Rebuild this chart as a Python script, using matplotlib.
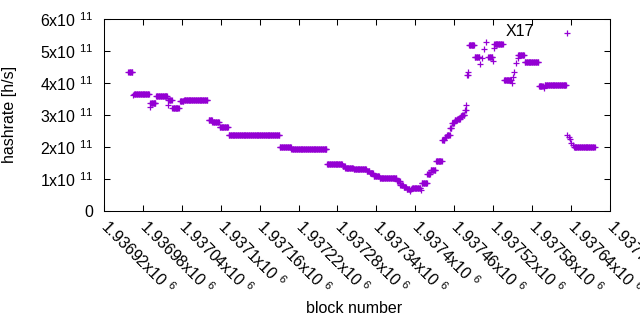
import numpy as np
import matplotlib
matplotlib.use("Agg")
import matplotlib.pyplot as plt

plt.rcParams['font.family'] = ['Liberation Sans', 'DejaVu Sans']
plt.rcParams['mathtext.fontset'] = 'custom'
plt.rcParams['mathtext.rm'] = 'Liberation Sans'
plt.rcParams['mathtext.default'] = 'regular'

# hashrate data: runs of constant value (block offset from 1936920, inclusive)
base_block = 1936920
run_start = [37, 45, 46, 70, 71, 80, 98, 99, 105, 117, 123, 161, 167, 178, 192, 271, 289,
             344, 368, 372, 385, 405, 410, 416, 425, 452, 457, 462, 467, 472, 473, 475, 489,
             490, 499, 504, 512, 522, 526, 529, 534, 537, 541, 545, 550, 553, 557, 559,
             560, 562, 563, 572, 580, 583, 586, 590, 593, 600, 601, 602, 617, 629, 631,
             632, 635, 638, 639, 649, 671, 679, 680, 714, 715, 717, 719, 721, 723, 725]
run_end = [43, 45, 69, 70, 79, 97, 98, 104, 115, 122, 159, 166, 177, 191, 270, 288, 343,
           367, 371, 384, 404, 409, 415, 424, 451, 456, 461, 466, 471, 472, 473, 488, 489,
           498, 503, 511, 521, 525, 528, 533, 536, 540, 544, 549, 552, 556, 558, 559,
           561, 562, 571, 579, 580, 583, 586, 590, 599, 600, 601, 615, 628, 629, 631,
           632, 635, 638, 648, 670, 677, 679, 713, 714, 715, 717, 719, 721, 723, 757]
run_value = [4.33, 3.61, 3.64, 3.24, 3.37, 3.58, 3.31, 3.48, 3.21, 3.43, 3.46, 2.84, 2.77,
             2.61, 2.37, 1.99, 1.93, 1.46, 1.40, 1.33, 1.30, 1.24, 1.17, 1.10, 1.02, 0.92,
             0.82, 0.74, 0.67, 0.62, 0.67, 0.70, 0.66, 0.88, 1.15, 1.28, 1.54, 2.21, 2.32,
             2.38, 2.58, 2.74, 2.84, 2.87, 2.95, 2.98, 3.16, 3.31, 4.25, 4.35, 5.19, 4.80,
             4.58, 4.77, 5.05, 5.27, 4.82, 4.70, 5.08, 5.21, 4.08, 3.99, 4.20, 4.35, 4.61,
             4.77, 4.88, 4.65, 3.91, 3.83, 3.94, 5.57, 2.38, 2.30, 2.25, 2.13, 2.06, 1.99]

xticks = [1936920 + 60 * i for i in range(14)]
xtick_labels = ['1.93692x10 $^{6}$', '1.93698x10 $^{6}$', '1.93704x10 $^{6}$', '1.9371x10 $^{6}$',
                '1.93716x10 $^{6}$', '1.93722x10 $^{6}$', '1.93728x10 $^{6}$', '1.93734x10 $^{6}$',
                '1.9374x10 $^{6}$', '1.93746x10 $^{6}$', '1.93752x10 $^{6}$', '1.93758x10 $^{6}$',
                '1.93764x10 $^{6}$', '1.9377x10 $^{6}$']
yticks = [0, 1e11, 2e11, 3e11, 4e11, 5e11, 6e11]
ytick_labels = ['0', '1x10 $^{11}$', '2x10 $^{11}$', '3x10 $^{11}$', '4x10 $^{11}$',
                '5x10 $^{11}$', '6x10 $^{11}$']

blocks = []
hashrate = []
for s, e, v in zip(run_start, run_end, run_value):
    for b in range(s, e + 1):
        blocks.append(base_block + b)
        hashrate.append(v * 1e11)

fig = plt.figure(figsize=(6.4, 3.3), dpi=100)
ax = fig.add_axes([104.3 / 640, 1 - 210.7 / 330, 505.2 / 640, 191.7 / 330])

ax.plot(blocks, hashrate, linestyle='none', marker='+', markersize=5,
        markeredgewidth=0.9, color='#9400d3')

ax.set_xlim(1936920, 1937700)
ax.set_ylim(0, 6e11)
ax.set_xticks(xticks)
ax.set_xticklabels(xtick_labels, rotation=-45, ha='left', va='center',
                   rotation_mode='anchor', fontsize=11.5)
ax.set_yticks(yticks)
ax.set_yticklabels(ytick_labels, fontsize=11.5)
ax.tick_params(direction='in', length=4, width=0.75, top=True, right=True)
ax.tick_params(axis='y', pad=8)
ax.tick_params(axis='x', pad=9)
for sp in ax.spines.values():
    sp.set_linewidth(0.75)

ax.set_ylabel('hashrate [h/s]', fontsize=11.5)
ax.yaxis.set_label_coords(-0.172, 0.5)
ax.set_xlabel('block number', fontsize=11.5)
ax.xaxis.label.set_va('center')
ax.xaxis.set_label_coords(0.495, -0.512)

ax.text(1937539, 5.6e11, 'X17', ha='left', va='center', fontsize=11.5)

fig.savefig('out.png', dpi=100)
